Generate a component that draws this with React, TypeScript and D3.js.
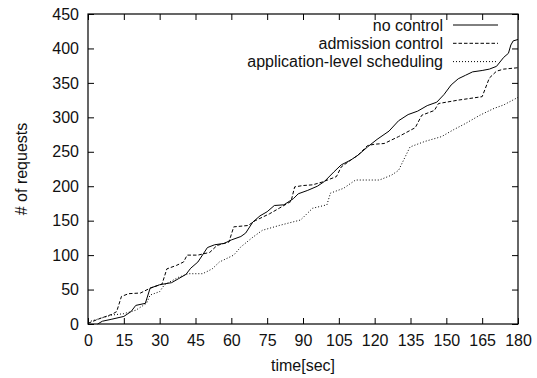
import { useEffect, useRef } from 'react'
import * as d3 from 'd3'

const timeTicks = [0, 15, 30, 45, 60, 75, 90, 105, 120, 135, 150, 165, 180]
const countTicks = [0, 50, 100, 150, 200, 250, 300, 350, 400, 450]

const seriesNames = ['no control', 'admission control', 'application-level scheduling']

// no control (solid)
const noControlTime = [4, 6, 10, 15, 18, 20, 24, 26, 30, 35, 38, 41, 43, 46, 50, 53, 57, 60, 64, 66, 69, 72, 75, 78, 82, 86, 88, 92, 96, 99, 103, 106, 110, 113, 117, 121, 126, 130, 134, 138, 142, 146, 149, 152, 155, 158, 161, 165, 168, 171, 174, 176, 177, 178, 180]
const noControlCount = [0, 4, 7, 11, 18, 27, 30, 52, 57, 60, 66, 72, 81, 90, 111, 115, 117, 122, 127, 132, 148, 157, 163, 172, 173, 182, 189, 194, 200, 207, 221, 231, 238, 245, 257, 268, 280, 295, 304, 309, 317, 322, 333, 347, 356, 361, 366, 368, 370, 374, 387, 393, 405, 411, 413]

// admission control (dashed)
const admissionTime = [0, 5, 10, 12, 14, 17, 22, 26, 31, 33, 37, 40, 41.5, 46, 51, 54, 59, 61, 67, 70, 73, 76, 80, 85, 86.5, 90, 94, 98, 104, 106, 110, 113, 117, 120, 124, 130, 137, 139.7, 145, 146.7, 150, 155, 165, 168, 171, 174, 180]
const admissionCount = [1, 8, 14, 18, 40, 44, 45, 52, 58, 80, 85, 90, 100, 100, 104, 114, 119, 141, 143, 150, 155, 160, 168, 178, 199, 201, 202, 206, 214, 228, 238, 245, 259, 261, 262, 272, 285, 303, 310, 320, 322, 325, 330, 357, 367, 370, 372]

// application-level scheduling (dotted)
const schedulingTime = [0, 5, 10, 15, 20, 24.5, 26, 30, 32, 38, 42, 48, 52, 55, 61, 64, 69, 73, 76, 80, 89, 94, 100, 101.5, 107, 112, 122, 127, 130, 134.8, 141, 148, 153, 158, 164, 170, 174, 180]
const schedulingCount = [3, 8, 13, 15, 20, 30, 42, 47, 57, 68, 73, 73, 80, 90, 100, 112, 126, 136, 139, 143, 151, 168, 173, 190, 197, 209, 209, 216, 223, 257, 265, 272, 282, 291, 303, 313, 318, 329]

const seriesTimes = [noControlTime, admissionTime, schedulingTime]
const seriesCounts = [noControlCount, admissionCount, schedulingCount]
const seriesDash = [null, '3.5,2', '1,2']

const FONT = 'Liberation Sans, Arial, Helvetica, sans-serif'

export default function App() {
  const svgRef = useRef<SVGSVGElement>(null)

  useEffect(() => {
    if (!svgRef.current) return
    const w = 537
    const h = 378
    const margin = { top: 14, right: 19, bottom: 54, left: 88 }
    const innerW = w - margin.left - margin.right
    const innerH = h - margin.top - margin.bottom

    const svg = d3.select(svgRef.current)
    svg.selectAll('*').remove()
    svg.attr('width', w).attr('height', h)

    const g = svg.append('g').attr('transform', `translate(${margin.left},${margin.top})`)

    const x = d3.scaleLinear().domain([0, 180]).range([0, innerW])
    const y = d3.scaleLinear().domain([0, 450]).range([innerH, 0])

    const styleAxis = (sel: d3.Selection<SVGGElement, unknown, null, undefined>) => {
      sel.selectAll('.domain').remove()
      sel.selectAll('line').attr('stroke', '#000').attr('stroke-width', 1)
      sel.selectAll('text')
        .attr('fill', '#111')
        .attr('font-family', FONT)
        .attr('font-size', '16px')
    }

    // bottom
    g.append('g')
      .attr('transform', `translate(0,${innerH})`)
      .call(d3.axisBottom(x).tickValues(timeTicks).tickSize(-6).tickPadding(11))
      .call(styleAxis)
    // left
    g.append('g')
      .call(d3.axisLeft(y).tickValues(countTicks).tickSize(-6).tickPadding(9))
      .call(styleAxis)
    // top (mirror)
    g.append('g')
      .call(d3.axisTop(x).tickValues(timeTicks).tickSize(-6).tickFormat(() => ''))
      .call(styleAxis)
    // right (mirror)
    g.append('g')
      .attr('transform', `translate(${innerW},0)`)
      .call(d3.axisRight(y).tickValues(countTicks).tickSize(-6).tickFormat(() => ''))
      .call(styleAxis)

    // frame
    g.append('rect')
      .attr('x', 0)
      .attr('y', 0)
      .attr('width', innerW)
      .attr('height', innerH)
      .attr('fill', 'none')
      .attr('stroke', '#000')
      .attr('stroke-width', 1.2)

    // axis titles
    svg.append('text')
      .attr('x', margin.left + innerW / 2)
      .attr('y', 371)
      .attr('text-anchor', 'middle')
      .attr('fill', '#111')
      .attr('font-family', FONT)
      .attr('font-size', '16px')
      .text('time[sec]')

    svg.append('text')
      .attr('transform', `translate(27,${margin.top + innerH / 2}) rotate(-90)`)
      .attr('text-anchor', 'middle')
      .attr('fill', '#111')
      .attr('font-family', FONT)
      .attr('font-size', '16px')
      .text('# of requests')

    // series
    const line = d3
      .line<[number, number]>()
      .x((d) => x(d[0]))
      .y((d) => y(d[1]))

    seriesNames.forEach((name, i) => {
      const pts: [number, number][] = seriesTimes[i].map((t, j) => [t, seriesCounts[i][j]])
      const p = g.append('path')
        .datum(pts)
        .attr('d', line)
        .attr('fill', 'none')
        .attr('stroke', '#000')
        .attr('stroke-width', 1)
      if (seriesDash[i]) p.attr('stroke-dasharray', seriesDash[i] as string)

      // legend
      const ly = 25 + i * 18.3
      svg.append('text')
        .attr('x', 443)
        .attr('y', ly + 5.8)
        .attr('text-anchor', 'end')
        .attr('fill', '#111')
        .attr('font-family', FONT)
        .attr('font-size', '16px')
        .text(name)
      const l = svg.append('line')
        .attr('x1', 453)
        .attr('x2', 498)
        .attr('y1', ly)
        .attr('y2', ly)
        .attr('stroke', '#000')
        .attr('stroke-width', 1)
      if (seriesDash[i]) l.attr('stroke-dasharray', seriesDash[i] as string)
    })

    return () => {
      svg.selectAll('*').remove()
    }
  }, [])

  return (
    <div style={{ position: 'absolute', left: 0, top: 0, background: '#fff' }}>
      <svg ref={svgRef} style={{ display: 'block' }} />
    </div>
  )
}
